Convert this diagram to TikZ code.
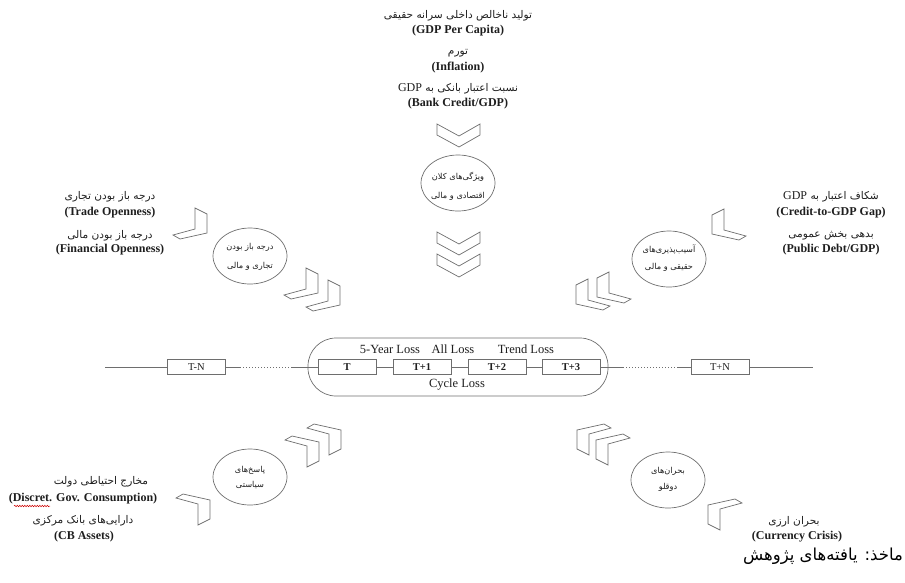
\documentclass[tikz,border=0pt]{standalone}
\usepackage{fontspec}
\setmainfont{Liberation Serif}
\newfontfamily\fafont[Script=Arabic]{DejaVu Sans}
\TeXXeTstate=1
\usetikzlibrary{shapes.geometric,decorations.pathmorphing}
\definecolor{lc}{HTML}{6E6E6E}
\definecolor{tc}{HTML}{1E1E1E}
\begin{document}
\begin{tikzpicture}[x=1pt,y=-1pt,
  ln/.style={draw=lc,line width=0.7pt},
  en/.style={text=tc,inner sep=0pt,font=\fontsize{12}{14}\selectfont\bfseries},
  enr/.style={text=tc,inner sep=0pt,font=\fontsize{12.5}{14}\selectfont},
  fa/.style={text=tc,inner sep=0pt,font=\fafont\fontsize{10.6}{12}\selectfont},
  fas/.style={text=tc,inner sep=0pt,font=\fafont\fontsize{8.2}{10}\selectfont},
  src/.style={text=black,inner sep=0pt,font=\fafont\fontsize{16.5}{18}\selectfont},
  circ/.style={ln,ellipse,minimum width=74pt,minimum height=56pt,inner sep=0pt},
  tbox/.style={ln,rectangle,minimum width=58pt,minimum height=15pt,inner sep=0pt,text=tc,font=\fontsize{10.5}{12}\selectfont},
  chev/.pic={\draw[ln,line join=miter] (0,0) -- (0,-19) -- (-12,-25) -- (-12,-4) -- (-34,2) -- (-27,6) -- cycle;},
  vchev/.pic={\draw[ln,line join=miter] (0,0) -- (21,-12) -- (21,-23) -- (0,-11) -- (-22,-23) -- (-22,-12) -- cycle;}
]
\useasboundingbox (0,0) rectangle (905,582);

% ---------- top block ----------
\node[fa] (g1) at (458,16) {\beginR تولید ناخالص داخلی سرانه حقیقی\endR};
\node[en] (g2) at (458,31) {(GDP Per Capita)};
\node[fa] (i1) at (458,53) {\beginR تورم\endR};
\node[en] (i2) at (458,68) {(Inflation)};
\node[fa] (b1) at (458,89) {\beginR نسبت اعتبار بانکی به \beginL{\rmfamily\fontsize{12}{12}\selectfont GDP}\endL\endR};
\node[en] (b2) at (458,104) {(Bank Credit/GDP)};

\pic at (459,147) {vchev};
\node[circ] (cTop) at (458,183) {};
\node[fas] (cTopa) at (458,177) {\beginR ویژگی‌های کلان\endR};
\node[fas] (cTopb) at (458,196) {\beginR اقتصادی و مالی\endR};
\pic at (459,255) {vchev};
\pic at (459,277) {vchev};

% ---------- left top ----------
\node[fa] (lt1) at (110,197) {\beginR درجه باز بودن تجاری\endR};
\node[en] (lt2) at (110,213) {(Trade Openness)};
\node[fa] (lt3) at (110,236) {\beginR درجه باز بودن مالی\endR};
\node[en] (lt4) at (110,250) {(Financial Openness)};
\pic at (207,233) {chev};
\node[circ] (cLT) at (250,256) {};
\node[fas] (cLTa) at (250,247) {\beginR درجه باز بودن\endR};
\node[fas] (cLTb) at (250,266) {\beginR تجاری و مالی\endR};
\pic at (318,293) {chev};
\pic at (340,305) {chev};

% ---------- right top ----------
\node[fa] (rt1) at (831,197) {\beginR شکاف اعتبار به \beginL{\rmfamily\fontsize{12}{12}\selectfont GDP}\endL\endR};
\node[en] (rt2) at (831,213) {(Credit-to-GDP Gap)};
\node[fa] (rt3) at (831,236) {\beginR بدهی بخش عمومی\endR};
\node[en] (rt4) at (831,250) {(Public Debt/GDP)};
\pic[xscale=-1] at (712,234) {chev};
\node[circ] (cRT) at (669,259) {};
\node[fas] (cRTa) at (669,250) {\beginR آسیب‌پذیری‌های\endR};
\node[fas] (cRTb) at (669,267) {\beginR حقیقی و مالی\endR};
\pic[xscale=-1] at (597,297) {chev};
\pic[xscale=-1] at (576,304) {chev};

% ---------- timeline ----------
\coordinate (L0) at (105,367);
\coordinate (R0) at (813,367);
\node[ln,rounded corners=28pt,minimum width=300pt,minimum height=58pt,inner sep=0pt] (loss) at (458,367) {};
\node[tbox] (TN) at (196.5,367) {T-N};
\node[tbox] (T0) at (347,367) {\textbf{T}};
\node[tbox] (T1) at (422,367) {\textbf{T+1}};
\node[tbox] (T2) at (497,367) {\textbf{T+2}};
\node[tbox] (T3) at (571,367) {\textbf{T+3}};
\node[tbox] (TP) at (720,367) {T+N};
\coordinate (d1) at (240,367);
\coordinate (d2) at (291,367);
\coordinate (d3) at (623,367);
\coordinate (d4) at (677,367);
\draw[ln] (L0) -- (TN.west);
\draw[ln] (TN.east) -- (d1);
\draw[ln,dash pattern=on 1pt off 2pt] (d1) -- (d2);
\draw[ln] (d2) -- (T0.west);
\draw[ln] (T0.east) -- (T1.west);
\draw[ln] (T1.east) -- (T2.west);
\draw[ln] (T2.east) -- (T3.west);
\draw[ln] (T3.east) -- (d3);
\draw[ln,dash pattern=on 1pt off 2pt] (d3) -- (d4);
\draw[ln] (d4) -- (TP.west);
\draw[ln] (TP.east) -- (R0);
\node[enr] (l5) at (390,349) {5-Year Loss};
\node[enr] (lA) at (453,349) {All Loss};
\node[enr] (lT) at (526,349) {Trend Loss};
\node[enr] (lC) at (457,385) {Cycle Loss};

% ---------- bottom left ----------
\node[fa] (bl1) at (101,482) {\beginR مخارج احتیاطی دولت\endR};
\node[en] (bl2) at (83,499) {(Discret. Gov. Consumption)};
\draw[red!80!black,line width=0.5pt,decorate,decoration={snake,amplitude=0.7pt,segment length=2.5pt}] (14,506) -- (50,506);
\node[fa] (bl3) at (83,521) {\beginR دارایی‌های بانک مرکزی\endR};
\node[en] (bl4) at (84,537) {(CB Assets)};
\pic[yscale=-1] at (210,500) {chev};
\node[circ] (cLB) at (250,477) {};
\node[fas] (cLBa) at (250,470) {\beginR پاسخ‌های\endR};
\node[fas] (cLBb) at (250,485) {\beginR سیاستی\endR};
\pic[yscale=-1] at (319,442) {chev};
\pic[yscale=-1] at (341,430) {chev};

% ---------- bottom right ----------
\node[fa] (br1) at (794,522) {\beginR بحران ارزی\endR};
\node[en] (br2) at (797,537) {(Currency Crisis)};
\pic[xscale=-1,yscale=-1] at (708,505) {chev};
\node[circ] (cRB) at (668,480) {};
\node[fas] (cRBa) at (668,471) {\beginR بحران‌های\endR};
\node[fas] (cRBb) at (668,487) {\beginR دوقلو\endR};
\pic[xscale=-1,yscale=-1] at (596,440) {chev};
\pic[xscale=-1,yscale=-1] at (577,430) {chev};

% ---------- source ----------
\node[src] (srcn) at (823,556) {\beginR ماخذ: یافته‌های پژوهش\endR};
\end{tikzpicture}
\end{document}
